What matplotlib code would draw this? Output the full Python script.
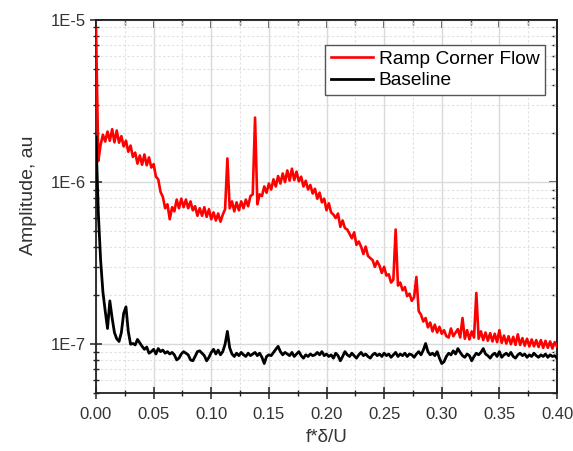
import numpy as np
import matplotlib
matplotlib.use("Agg")
import matplotlib.pyplot as plt
from matplotlib.ticker import FixedLocator, LogLocator, NullFormatter, MultipleLocator

# frequency bins f*delta/U (0.000 .. 0.400, step 0.002)
freq = np.arange(201) * 0.002

# Ramp Corner Flow amplitude, in units of 1e-7
ramp_e7 = [
    88, 13.5, 17.0, 19.6, 17.8, 20.5, 18.0, 21.2, 17.6, 20.8,
    17.5, 19.2, 16.6, 18.0, 15.4, 16.8, 14.3, 15.2, 13.0, 14.6,
    12.8, 14.8, 12.7, 14.2, 12.3, 12.9, 10.8, 10.4, 8.7, 8.1,
    6.9, 7.3, 5.9, 7.0, 6.6, 7.8, 6.9, 7.9, 7.0, 7.8,
    6.9, 7.6, 6.7, 7.1, 6.2, 6.9, 6.2, 7.0, 6.1, 6.8,
    5.9, 6.5, 5.8, 6.4, 5.7, 6.3, 6.8, 14.0, 6.9, 7.6,
    6.6, 7.5, 6.7, 7.6, 6.9, 7.8, 7.1, 8.2, 8.4, 25.0,
    7.3, 8.4, 8.2, 9.4, 8.6, 9.8, 9.0, 10.4, 9.4, 10.9,
    9.8, 11.3, 10.0, 11.8, 10.2, 12.1, 10.3, 11.6, 10.1, 10.8,
    9.4, 10.2, 9.0, 9.6, 8.5, 9.1, 7.9, 8.6, 7.5, 7.9,
    6.7, 7.4, 6.5, 6.3, 6.0, 6.4, 5.3, 5.8, 5.2, 5.1,
    4.8, 4.5, 4.9, 4.1, 4.3, 4.0, 3.6, 4.0, 3.5, 3.4,
    3.3, 3.0, 3.25, 3.05, 2.75, 3.0, 2.65, 2.7, 2.4, 2.5,
    5.1, 2.3, 2.4, 2.15, 2.25, 1.98, 2.05, 1.85, 1.95, 2.6,
    1.6, 1.52, 1.38, 1.45, 1.27, 1.36, 1.2, 1.32, 1.18, 1.28,
    1.16, 1.22, 1.12, 1.1, 1.25, 1.12, 1.18, 1.24, 1.1, 1.45,
    1.08, 1.22, 1.07, 1.2, 1.1, 2.07, 1.08, 1.2, 1.06, 1.18,
    1.05, 1.17, 1.04, 1.16, 1.03, 1.22, 1.02, 1.13, 1.01, 1.12,
    1.0, 1.11, 0.99, 1.15, 0.99, 1.09, 0.98, 1.08, 0.97, 1.07,
    0.97, 1.06, 0.96, 1.06, 0.95, 1.05, 0.95, 1.04, 0.94, 1.03,
    0.97,
]

# Baseline amplitude, in units of 1e-7
base_e7 = [
    19.0, 6.5, 3.3, 2.1, 1.6, 1.25, 1.85, 1.45, 1.18, 1.08,
    1.04, 1.18, 1.55, 1.7, 1.2, 1.0, 1.01, 0.99, 1.07, 1.02,
    0.97, 0.93, 0.96, 0.88, 0.9, 0.93, 0.87, 0.94, 0.9, 0.92,
    0.88, 0.9, 0.87, 0.89, 0.86, 0.8, 0.82, 0.87, 0.9, 0.88,
    0.86, 0.8, 0.79, 0.84, 0.9, 0.91, 0.88, 0.85, 0.79, 0.83,
    0.89, 0.93, 0.87, 0.92, 0.86, 0.9, 1.0, 1.2, 0.95, 0.87,
    0.84, 0.88, 0.85, 0.89, 0.86, 0.84, 0.88, 0.85, 0.87, 0.89,
    0.85, 0.88, 0.83, 0.76, 0.84, 0.86, 0.85, 0.89, 0.93, 0.97,
    0.9, 0.86, 0.89, 0.87, 0.85, 0.89, 0.84, 0.87, 0.9, 0.85,
    0.82, 0.86, 0.84, 0.87, 0.85, 0.86, 0.89, 0.86, 0.9, 0.85,
    0.87, 0.84, 0.86, 0.82, 0.88, 0.85, 0.79, 0.84, 0.9, 0.86,
    0.84, 0.88, 0.85, 0.82, 0.86, 0.89, 0.85, 0.87, 0.84, 0.82,
    0.86, 0.88, 0.85, 0.87, 0.84, 0.88, 0.85, 0.87, 0.83, 0.86,
    0.89, 0.84, 0.87, 0.85, 0.88, 0.84, 0.87, 0.86, 0.83, 0.87,
    0.9, 0.86, 0.92, 1.01, 0.9, 0.86, 0.88, 0.85, 0.9, 0.82,
    0.76, 0.78, 0.84, 0.88, 0.86, 0.91, 0.87, 0.94, 0.89, 0.85,
    0.83, 0.87, 0.85, 0.79, 0.84, 0.88, 0.86, 0.89, 0.94, 0.87,
    0.85, 0.82, 0.86, 0.88, 0.84, 0.9, 0.83, 0.86, 0.88, 0.85,
    0.89, 0.84, 0.82, 0.86, 0.88, 0.85, 0.87, 0.83, 0.86, 0.84,
    0.88, 0.85, 0.83, 0.86, 0.84, 0.87, 0.83, 0.86, 0.84, 0.85,
    0.82,
]

series_labels = ["Ramp Corner Flow", "Baseline"]
x_ticks = [0.00, 0.05, 0.10, 0.15, 0.20, 0.25, 0.30, 0.35, 0.40]
x_tick_labels = ["0.00", "0.05", "0.10", "0.15", "0.20", "0.25", "0.30", "0.35", "0.40"]
y_ticks = [1e-7, 1e-6, 1e-5]
y_tick_labels = ["1E-7", "1E-6", "1E-5"]

plt.rcParams['font.family'] = ['Liberation Sans', 'DejaVu Sans']

fig = plt.figure(figsize=(5.73, 4.51), dpi=100)
ax = fig.add_axes([96/573, 1 - 393/451, 461/573, 373/451])

ramp = np.array(ramp_e7) * 1e-7
base = np.array(base_e7) * 1e-7

ax.plot(freq, ramp, color='#ff0000', lw=1.9, label=series_labels[0], zorder=3)
ax.plot(freq, base, color='#000000', lw=2.0, label=series_labels[1], zorder=4)

ax.set_yscale('log')
ax.set_xlim(0, 0.40)
ax.set_ylim(5e-8, 1e-5)

ax.xaxis.set_major_locator(FixedLocator(x_ticks))
ax.set_xticklabels(x_tick_labels)
ax.xaxis.set_minor_locator(MultipleLocator(0.025))
ax.yaxis.set_major_locator(FixedLocator(y_ticks))
ax.set_yticklabels(y_tick_labels)
ax.yaxis.set_minor_locator(LogLocator(base=10, subs=np.arange(2, 10)))
ax.yaxis.set_minor_formatter(NullFormatter())

ax.grid(which='major', color='#d9d9d9', lw=1.0, ls='-', zorder=0)
ax.grid(which='minor', color='#e0e0e0', lw=0.8, ls=(0, (2, 2)), zorder=0)
ax.set_axisbelow(True)

ax.tick_params(which='major', direction='inout', length=8, width=1.1, labelsize=12,
               colors='#222222', labelcolor='#333333')
ax.tick_params(which='minor', direction='inout', length=5, width=1.0, colors='#222222')
ax.tick_params(axis='x', pad=6)

for s in ax.spines.values():
    s.set_linewidth(1.3)
    s.set_color('#222222')

# top / right ticks pointing inward
secx = ax.secondary_xaxis('top')
secx.xaxis.set_major_locator(FixedLocator(x_ticks))
secx.xaxis.set_minor_locator(MultipleLocator(0.025))
secx.tick_params(which='major', direction='in', length=6, width=1.1, labeltop=False, colors='#222222')
secx.tick_params(which='minor', direction='in', length=3.5, width=1.0, colors='#222222')
secx.spines['top'].set_linewidth(1.3)

secy = ax.secondary_yaxis('right')
secy.set_yscale('log')
secy.yaxis.set_major_locator(FixedLocator(y_ticks))
secy.yaxis.set_minor_locator(LogLocator(base=10, subs=np.arange(2, 10)))
secy.yaxis.set_minor_formatter(NullFormatter())
secy.tick_params(which='major', direction='in', length=6, width=1.1, labelright=False, colors='#222222')
secy.tick_params(which='minor', direction='in', length=3.5, width=1.0, colors='#222222')
secy.spines['right'].set_linewidth(1.3)

ax.set_xlabel("f*δ/U", fontsize=13.5, color='#333333', labelpad=5)
ax.set_ylabel("Amplitude, au", fontsize=14, color='#333333', labelpad=8)
ax.yaxis.set_label_coords(-0.128, 0.53)

leg = ax.legend(loc='upper right', bbox_to_anchor=(0.974, 0.933), fontsize=13.8,
                frameon=True, fancybox=False, edgecolor='#555555', framealpha=1,
                handlelength=2.2, handletextpad=0.28, borderpad=0.3, labelspacing=0.2,
                borderaxespad=0)
leg.get_frame().set_linewidth(1.0)

fig.savefig("out.png", dpi=100)
